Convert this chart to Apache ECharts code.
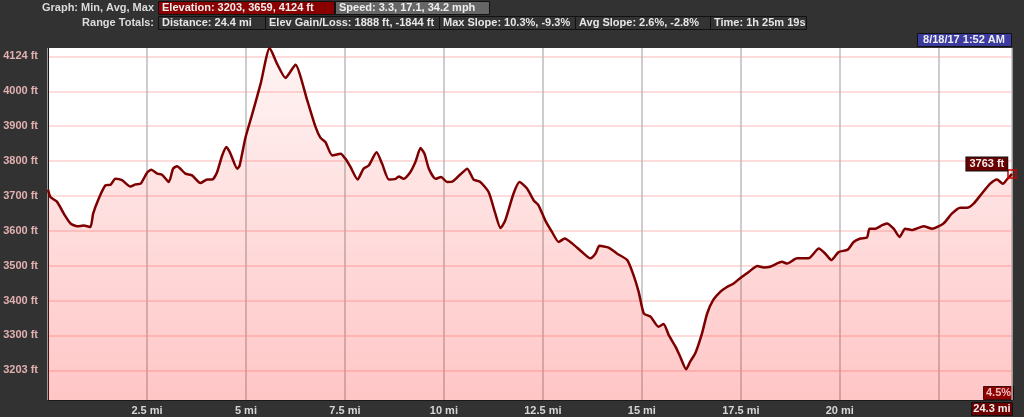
<!DOCTYPE html>
<html>
<head>
<meta charset="utf-8">
<script src="https://cdn.jsdelivr.net/npm/echarts@6/dist/echarts.min.js"></script>
<style>
html,body{margin:0;padding:0;background:#323232;}
#chart{width:1024px;height:417px;}
</style>
</head>
<body>
<div id="chart"></div>
<script>
// Distance along track (mi)
const distances = [0.00,0.06,0.23,0.40,0.57,0.74,0.90,1.07,1.14,1.28,1.45,1.58,1.70,1.87,2.08,2.21,2.34,2.51,2.61,2.76,2.88,3.05,3.16,3.26,3.47,3.64,3.85,4.02,4.15,4.27,4.40,4.51,4.61,4.78,4.84,4.99,5.16,5.37,5.60,5.79,6.00,6.11,6.25,6.55,6.76,6.88,7.01,7.18,7.39,7.51,7.64,7.82,7.97,8.10,8.30,8.44,8.61,8.78,8.86,8.98,9.15,9.28,9.41,9.51,9.62,9.79,9.93,10.08,10.23,10.42,10.59,10.75,10.92,11.13,11.30,11.43,11.55,11.76,11.91,12.10,12.27,12.39,12.56,12.73,12.90,13.05,13.24,13.49,13.70,13.83,13.93,14.16,14.37,14.63,14.79,14.92,15.05,15.22,15.42,15.55,15.68,15.85,15.97,16.12,16.22,16.35,16.52,16.65,16.80,16.98,17.15,17.32,17.49,17.70,17.92,18.08,18.24,18.54,18.67,18.92,19.21,19.47,19.63,19.79,19.97,20.20,20.35,20.52,20.69,20.75,20.90,21.07,21.19,21.36,21.51,21.65,21.82,22.12,22.33,22.62,22.83,23.04,23.21,23.38,23.59,23.80,23.97,24.12,24.22,24.35];
// Elevation (ft)
const elevations = [3718,3697,3683,3649,3621,3613,3615,3611,3649,3692,3730,3732,3749,3745,3727,3733,3735,3768,3775,3764,3761,3740,3778,3785,3764,3759,3737,3747,3747,3768,3816,3840,3821,3778,3787,3868,3935,4021,4124,4078,4038,4054,4076,3973,3897,3867,3854,3816,3821,3807,3783,3747,3778,3787,3825,3792,3747,3749,3756,3749,3768,3797,3837,3821,3778,3749,3754,3740,3742,3762,3778,3747,3740,3711,3649,3608,3630,3707,3740,3721,3687,3673,3630,3597,3568,3578,3564,3539,3521,3535,3557,3552,3535,3516,3473,3425,3363,3354,3325,3333,3301,3268,3239,3203,3225,3249,3306,3363,3401,3425,3439,3449,3465,3482,3499,3495,3497,3511,3506,3521,3521,3549,3535,3516,3539,3546,3568,3578,3581,3606,3606,3616,3621,3606,3582,3606,3602,3613,3606,3621,3649,3666,3666,3678,3707,3735,3747,3735,3747,3763];

const yTickValues = [3200,3300,3400,3500,3600,3700,3800,3900,4000,4100];
const yTickLabels = ['3203 ft','3300 ft','3400 ft','3500 ft','3600 ft','3700 ft','3800 ft','3900 ft','4000 ft','4124 ft'];
const xLabelValues = [2.5,5,7.5,10,12.5,15,17.5,20];
const xLabelTexts = ['2.5 mi','5 mi','7.5 mi','10 mi','12.5 mi','15 mi','17.5 mi','20 mi'];

const headerRow1Title = 'Graph: Min, Avg, Max';
const headerRow1Boxes = ['Elevation: 3203, 3659, 4124 ft','Speed: 3.3, 17.1, 34.2 mph'];
const headerRow2Title = 'Range Totals:';
const headerRow2Boxes = ['Distance: 24.4 mi','Elev Gain/Loss: 1888 ft, -1844 ft','Max Slope: 10.3%, -9.3%','Avg Slope: 2.6%, -2.8%','Time: 1h 25m 19s'];
const dateText = '8/18/17 1:52 AM';
const cursorSlope = '4.5%';
const cursorDistance = '24.3 mi';

const FONT = 'bold 11px "Liberation Sans", Arial, sans-serif';
const data = distances.map((d,i)=>[d,elevations[i]]);
const last = data[data.length-1];

const row1Geom = [[158,176,'#8a0000'],[335,154,'#666666']];
const row2Geom = [[158,107],[265,174],[439,136],[575,135],[710,96]];

const graphics = [];
graphics.push({type:'text',style:{text:headerRow1Title,x:154,y:8,align:'right',verticalAlign:'middle',fill:'#dcdcdc',font:FONT}});
headerRow1Boxes.forEach((t,i)=>{
  const g=row1Geom[i];
  graphics.push({type:'rect',shape:{x:g[0]+0.5,y:1.5,width:g[1],height:13},style:{fill:g[2],stroke:'#111',lineWidth:1}});
  graphics.push({type:'text',style:{text:t,x:g[0]+4,y:8,verticalAlign:'middle',fill:'#eeeeee',font:FONT}});
});
graphics.push({type:'text',style:{text:headerRow2Title,x:154,y:23,align:'right',verticalAlign:'middle',fill:'#dcdcdc',font:FONT}});
headerRow2Boxes.forEach((t,i)=>{
  const g=row2Geom[i];
  graphics.push({type:'rect',shape:{x:g[0]+0.5,y:16.5,width:g[1],height:13},style:{fill:'#333333',stroke:'#111',lineWidth:1}});
  graphics.push({type:'text',style:{text:t,x:g[0]+4,y:23,verticalAlign:'middle',fill:'#e6e6e6',font:FONT}});
});
graphics.push({type:'rect',shape:{x:917.5,y:33.5,width:94,height:13},style:{fill:'#3b3b9e',stroke:'#111',lineWidth:1}});
graphics.push({type:'text',style:{text:dateText,x:964,y:40,align:'center',verticalAlign:'middle',fill:'#eeeeee',font:FONT}});
graphics.push({type:'rect',shape:{x:983.5,y:386.5,width:30,height:13},style:{fill:'#6b0000',stroke:'#111',lineWidth:1}});
graphics.push({type:'text',style:{text:cursorSlope,x:998.5,y:393,align:'center',verticalAlign:'middle',fill:'#eeeeee',font:FONT}});
graphics.push({type:'rect',shape:{x:971.5,y:402.5,width:41,height:13},style:{fill:'#6b0000',stroke:'#111',lineWidth:1}});
graphics.push({type:'text',style:{text:cursorDistance,x:992,y:409,align:'center',verticalAlign:'middle',fill:'#eeeeee',font:FONT}});

const chart = echarts.init(document.getElementById('chart'), null, {renderer:'canvas'});
chart.setOption({
  backgroundColor:'#323232',
  animation:false,
  grid:{left:48,right:12,top:48,bottom:17,show:true,backgroundColor:'#ffffff',borderWidth:0},
  xAxis:{
    type:'value',min:0,max:24.35,interval:2.5,
    axisLine:{show:true,onZero:false,lineStyle:{color:'#1a1a1a',width:1}},
    axisTick:{show:false},
    splitLine:{show:true,lineStyle:{color:'#bcbcbc',width:1.5}},
    axisLabel:{
      margin:5,color:'#d6d6d6',fontSize:11,fontWeight:'bold',fontFamily:'"Liberation Sans", Arial, sans-serif',
      formatter:(v)=>{const i=xLabelValues.findIndex(x=>Math.abs(x-v)<1e-6);return i>=0?xLabelTexts[i]:'';}
    }
  },
  yAxis:{
    type:'value',min:3115,max:4124,
    axisLine:{show:true,lineStyle:{color:'#1a1a1a',width:1}},
    axisTick:{show:false,customValues:yTickValues},
    splitLine:{show:true,lineStyle:{color:'#ffdcdc',width:2}},
    axisLabel:{
      customValues:yTickValues,margin:10,color:'#e2b0b0',fontSize:11,fontWeight:'bold',fontFamily:'"Liberation Sans", Arial, sans-serif',
      formatter:(v)=>{const i=yTickValues.indexOf(v);return i>=0?yTickLabels[i]:'';}
    }
  },
  series:[{
    type:'line',data:data,showSymbol:false,smooth:0.2,
    lineStyle:{color:'#7d0000',width:2.5},
    areaStyle:{color:{type:'linear',x:0,y:0,x2:0,y2:1,colorStops:[{offset:0,color:'rgba(255,0,0,0.06)'},{offset:1,color:'rgba(255,0,0,0.32)'}]}},
    markPoint:{
      symbol:'rect',symbolSize:8,
      itemStyle:{color:'rgba(0,0,0,0)',borderColor:'#d00000',borderWidth:1.5},
      label:{show:true,position:'left',distance:4,offset:[4,-10],formatter:()=>last[1]+' ft',
        backgroundColor:'#6b0000',borderColor:'#111',borderWidth:1,padding:[1,3,1,3],
        color:'#eeeeee',fontSize:11,fontWeight:'bold',fontFamily:'"Liberation Sans", Arial, sans-serif'},
      data:[{coord:last}]
    }
  }],
  graphic:graphics
});
</script>
</body>
</html>
